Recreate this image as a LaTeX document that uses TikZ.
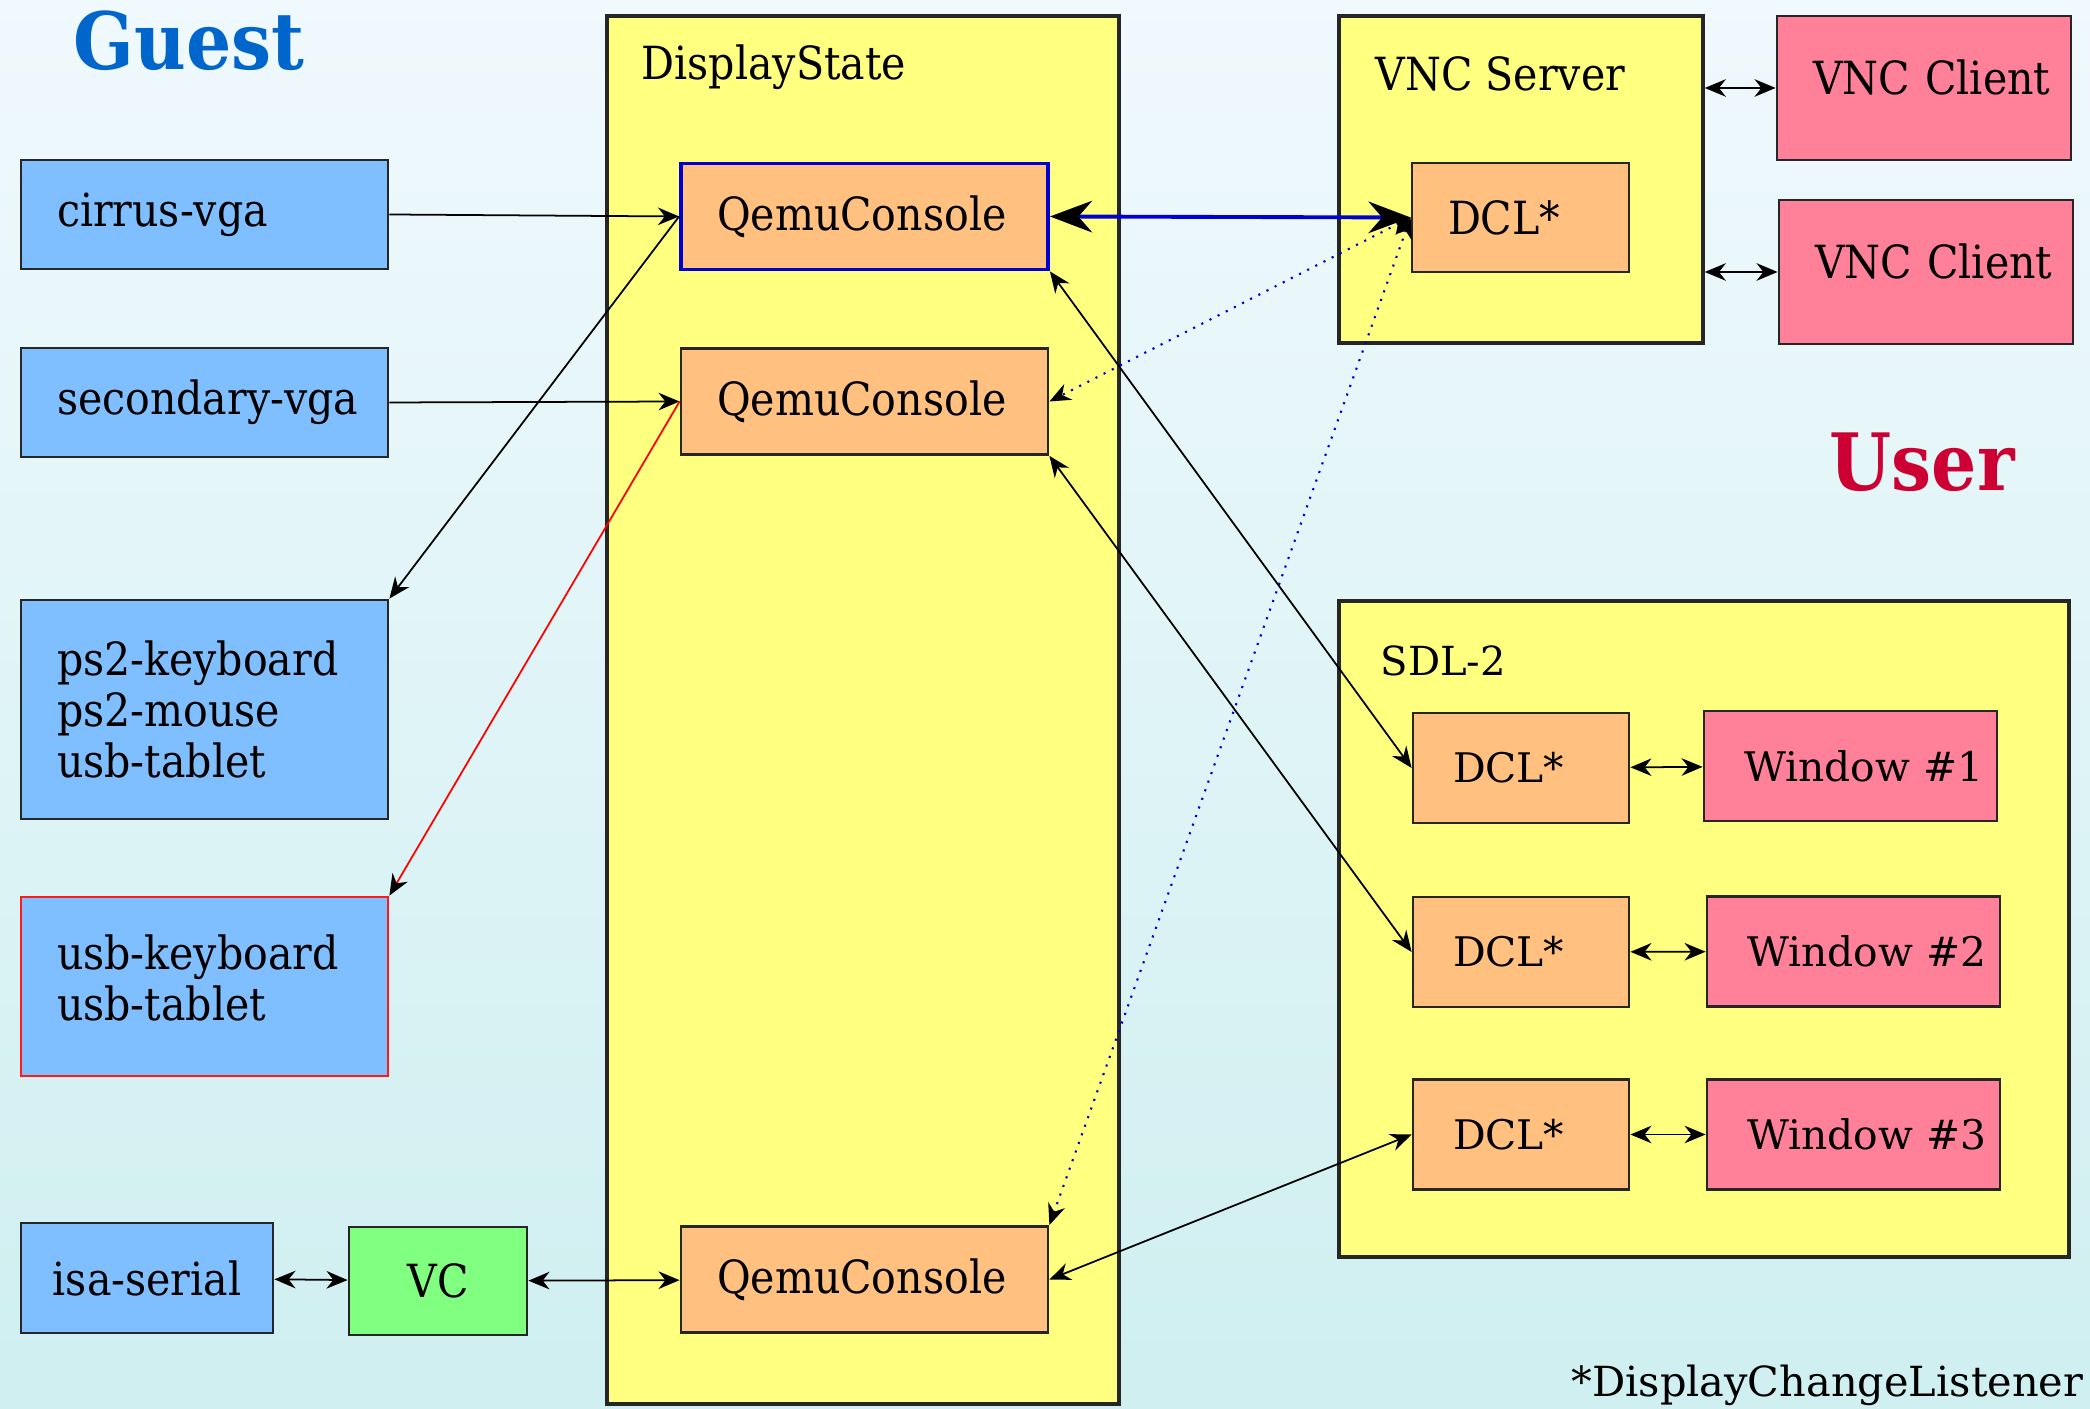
\documentclass[tikz,border=0pt]{standalone}
\usepackage{fontspec}
\setmainfont{DejaVu Serif}
\IfFontExistsTF{DejaVuSerifCondensed.ttf}
  {\newfontfamily\condfont{DejaVuSerifCondensed}[Extension=.ttf, BoldFont=DejaVuSerifCondensed-Bold]}
  {\newfontfamily\condfont{DejaVu Serif}[FakeStretch=0.9]}
\usetikzlibrary{arrows.meta}

\definecolor{bgtop}{RGB}{240,249,253}
\definecolor{bgbot}{RGB}{207,239,240}
\definecolor{guestblue}{RGB}{128,191,255}
\definecolor{consorange}{RGB}{255,192,128}
\definecolor{statey}{RGB}{255,255,128}
\definecolor{userpink}{RGB}{255,128,153}
\definecolor{vcgreen}{RGB}{128,255,128}
\definecolor{titleblue}{RGB}{0,102,204}
\definecolor{titlered}{RGB}{204,0,51}
\definecolor{linkblue}{RGB}{0,0,210}

\tikzset{
  box/.style={draw=black!85, line width=0.8pt, inner xsep=0.36cm, inner ysep=0pt,
    align=left, font=\condfont\fontsize{13}{14.5}\selectfont},
  sdlbox/.style={box, inner xsep=0.4cm, font=\fontsize{11.6}{13}\selectfont},
  guest/.style={box, fill=guestblue, text width=2.95cm, minimum height=#1},
  cons/.style={box, fill=consorange, text width=2.95cm, minimum height=1.06cm},
  holder/.style={draw=black!85, line width=1pt, fill=statey, minimum width=#1},
  lbl/.style={inner sep=0pt, anchor=base west},
  title/.style={lbl, font=\condfont\fontsize{22.5}{24}\selectfont\bfseries},
  link/.style={line width=0.5pt, -{Stealth[length=6pt, width=5pt, black]}},
  both/.style={line width=0.5pt, {Stealth[length=6pt, width=5pt, black]}-{Stealth[length=6pt, width=5pt, black]}},
}

\begin{document}
\begin{tikzpicture}
  \useasboundingbox (0,0) rectangle (20.9,14.09);
  % background
  \shade[top color=bgtop, bottom color=bgbot] (0,0) rectangle (20.9,14.09);

  \node[title, text=titleblue] (guestlbl) at (0.73,13.39) {Guest};
  \node[title, text=titlered] (userlbl) at (18.29,9.18) {User};

  % guest devices
  \node[guest=1.09cm] (cirrus) at (2.045,11.945) {cirrus-vga};
  \node[guest=1.09cm] (secvga) at (2.045,10.065) {\mbox{secondary-vga}};
  \node[guest=2.19cm] (ps2) at (2.045,6.995) {ps2-keyboard\\ps2-mouse\\usb-tablet};
  \node[guest=1.79cm, draw=red!90, text depth=0.68cm] (usb) at (2.045,4.225) {usb-keyboard\\usb-tablet};
  \node[box, fill=guestblue, inner xsep=0pt, minimum width=2.52cm, minimum height=1.1cm, align=center] (isa) at (1.47,1.31) {isa-serial};
  \node[box, fill=vcgreen, inner xsep=0pt, minimum width=1.78cm, minimum height=1.08cm, align=center] (vc) at (4.38,1.28) {VC};

  % display state
  \node[holder=5.12cm, minimum height=13.88cm] (dstate) at (8.63,6.99) {};
  \node[lbl, font=\condfont\fontsize{13}{14.5}\selectfont] (dslbl) at (6.41,13.29) {DisplayState};
  \node[cons, draw=linkblue, line width=1.1pt] (qc1) at (8.645,11.925) {QemuConsole};
  \node[cons] (qc2) at (8.645,10.075) {QemuConsole};
  \node[cons] (qc3) at (8.645,1.295) {QemuConsole};

  % vnc
  \node[holder=3.64cm, minimum height=3.27cm] (vncsrv) at (15.21,12.295) {};
  \node[lbl, font=\condfont\fontsize{13}{14.5}\selectfont] (vnclbl) at (13.75,13.18) {VNC Server};
  \node[box, fill=consorange, text width=1.45cm, minimum height=1.09cm] (dclv) at (15.205,11.915) {DCL*};
  \node[box, fill=userpink, text width=2.22cm, minimum height=1.44cm, text depth=0.21cm] (vncc1) at (19.24,13.21) {\mbox{VNC Client}};
  \node[box, fill=userpink, text width=2.22cm, minimum height=1.44cm, text depth=0.21cm] (vncc2) at (19.26,11.37) {\mbox{VNC Client}};

  % sdl
  \node[holder=7.30cm, minimum height=6.56cm] (sdl) at (17.04,4.80) {};
  \node[lbl, font=\fontsize{11.4}{13}\selectfont] (sdllbl) at (13.80,7.33) {SDL-2};
  \node[sdlbox, fill=consorange, text width=1.36cm, minimum height=1.1cm] (dcl1) at (15.21,6.41) {DCL*};
  \node[sdlbox, fill=consorange, text width=1.36cm, minimum height=1.1cm] (dcl2) at (15.21,4.57) {DCL*};
  \node[sdlbox, fill=consorange, text width=1.36cm, minimum height=1.1cm] (dcl3) at (15.21,2.745) {DCL*};
  \node[sdlbox, fill=userpink, text width=2.13cm, minimum height=1.1cm] (win1) at (18.505,6.43) {\mbox{Window \#1}};
  \node[sdlbox, fill=userpink, text width=2.13cm, minimum height=1.1cm] (win2) at (18.535,4.575) {\mbox{Window \#2}};
  \node[sdlbox, fill=userpink, text width=2.13cm, minimum height=1.1cm] (win3) at (18.535,2.745) {\mbox{Window \#3}};

  \node[lbl, anchor=base east, font=\fontsize{11.8}{13}\selectfont] (note) at (20.84,0.12) {*DisplayChangeListener};

  % connections
  \draw[link] (cirrus.east) -- (qc1.west);
  \draw[link] (secvga.east) -- (qc2.west);
  \draw[link] (qc1.west) -- (ps2.north east);
  \draw[link, red] (qc2.west) -- (usb.north east);
  \draw[line width=1.1pt, linkblue, {Stealth[length=12pt, width=9pt, black]}-{Stealth[length=12pt, width=9pt, black]}] (qc1.east) -- (dclv.west);
  \draw[both, linkblue, line width=0.6pt, dotted] (dclv.west) -- (qc2.east);
  \draw[both, linkblue, line width=0.6pt, dotted] (dclv.west) -- (qc3.north east);
  \draw[both] (qc1.south east) -- (dcl1.west);
  \draw[both] (qc2.south east) -- (dcl2.west);
  \draw[both] (qc3.east) -- (dcl3.west);
  \draw[both] (isa) -- (vc);
  \draw[both] (vc) -- (qc3);
  \draw[both] (vncc1.west -| vncsrv.east) -- (vncc1.west);
  \draw[both] (vncc2.west -| vncsrv.east) -- (vncc2.west);
  \foreach \i in {1,2,3}
    \draw[both] (dcl\i) -- (win\i);
\end{tikzpicture}
\end{document}
